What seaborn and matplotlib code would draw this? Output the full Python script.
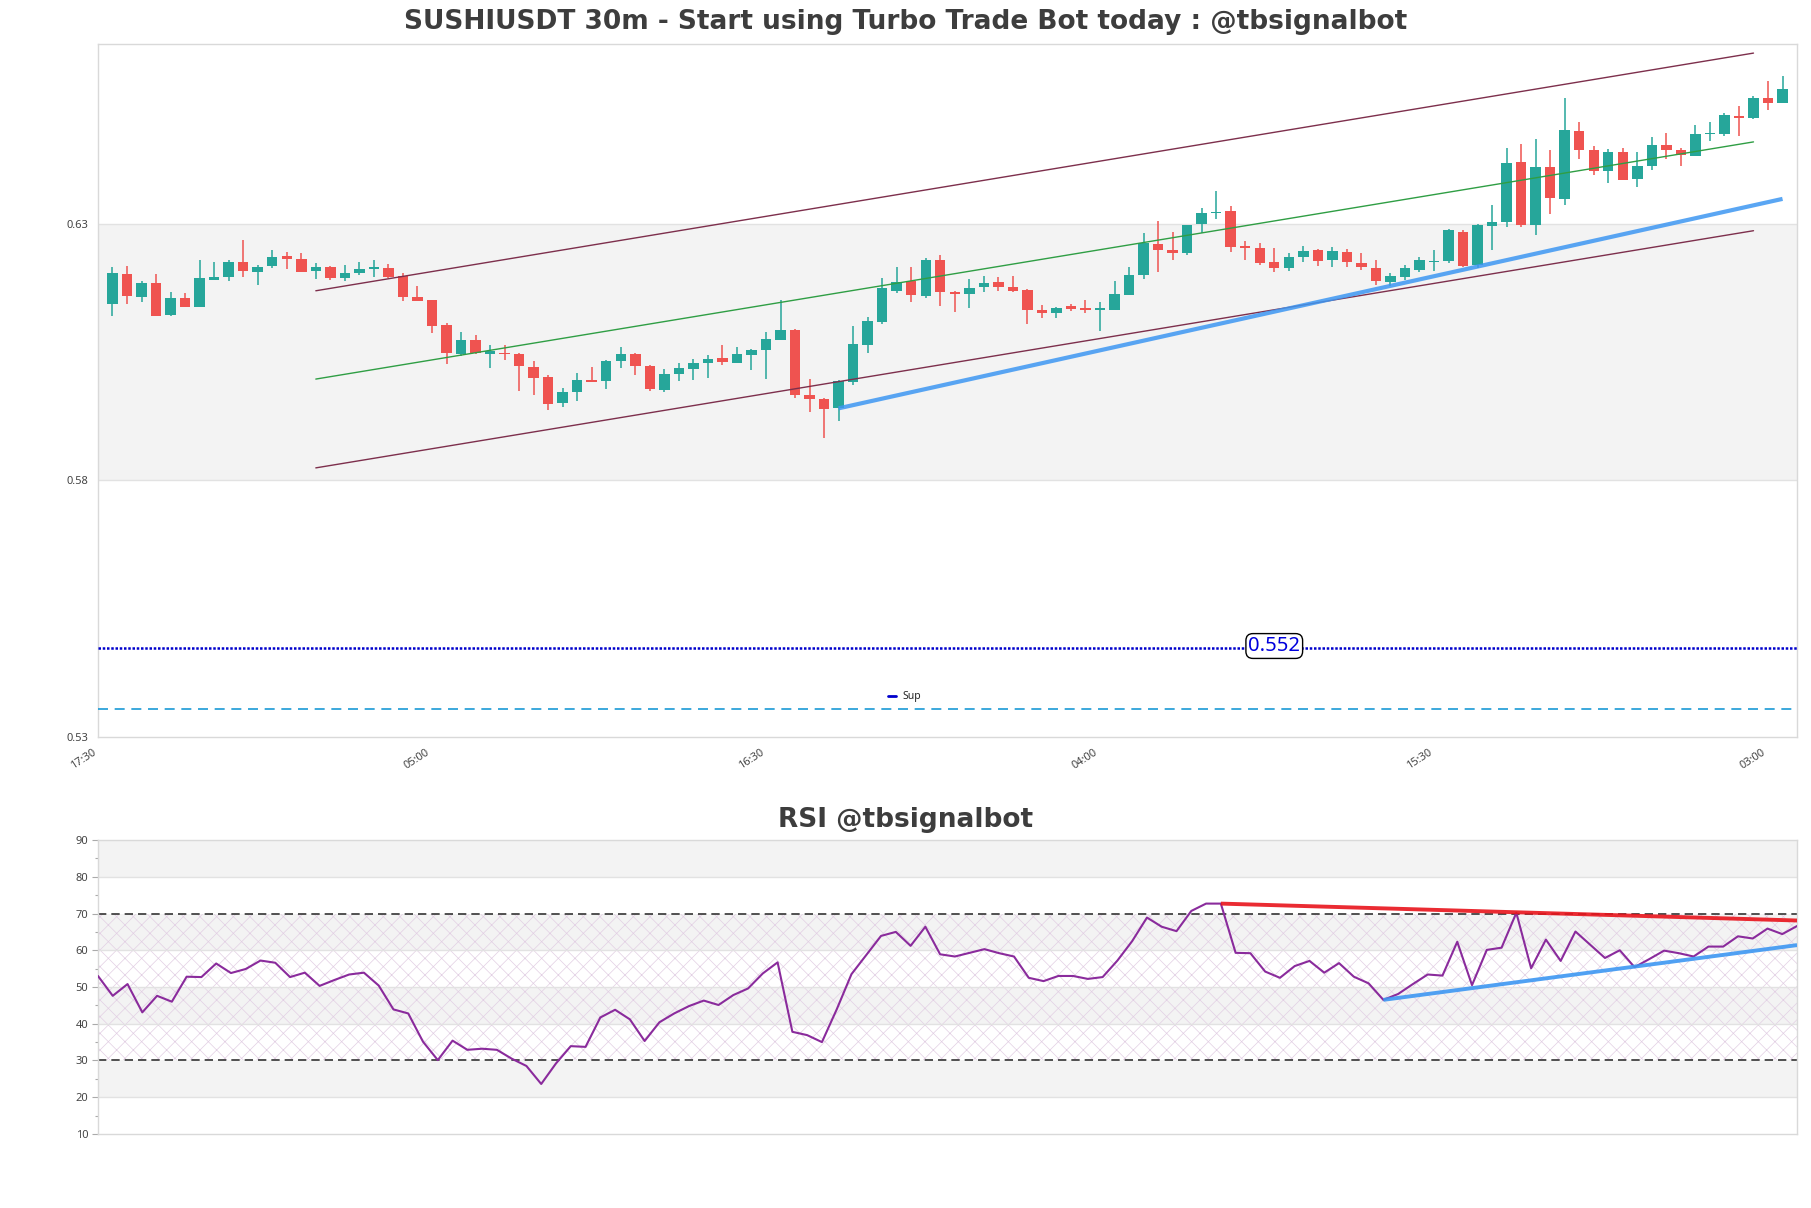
import numpy as np
import pandas as pd
import matplotlib
matplotlib.use("Agg")
import matplotlib.pyplot as plt
import matplotlib.transforms as mtransforms
import seaborn as sns
from matplotlib.lines import Line2D

# ---------------- data ----------------
opens = [0.6143, 0.6202, 0.6156, 0.6185, 0.6121, 0.6154, 0.6137, 0.6190, 0.6195, 0.6226,
         0.6205, 0.6217, 0.6236, 0.6230, 0.6207, 0.6216, 0.6193, 0.6203, 0.6212, 0.6214,
         0.6198, 0.6156, 0.6152, 0.6103, 0.6045, 0.6074, 0.6046, 0.6048, 0.6045, 0.6021,
         0.6002, 0.5950, 0.5971, 0.5996, 0.5994, 0.6032, 0.6046, 0.6023, 0.5975, 0.6007,
         0.6017, 0.6028, 0.6038, 0.6028, 0.6043, 0.6053, 0.6073, 0.6093, 0.5966, 0.5959,
         0.5940, 0.5991, 0.6063, 0.6109, 0.6169, 0.6189, 0.6158, 0.6228, 0.6167, 0.6162,
         0.6176, 0.6186, 0.6177, 0.6171, 0.6132, 0.6126, 0.6139, 0.6136, 0.6131, 0.6131,
         0.6160, 0.6199, 0.6260, 0.6249, 0.6243, 0.6299, 0.6321, 0.6325, 0.6256, 0.6253,
         0.6226, 0.6213, 0.6234, 0.6249, 0.6229, 0.6245, 0.6223, 0.6214, 0.6187, 0.6195,
         0.6210, 0.6225, 0.6227, 0.6283, 0.6219, 0.6295, 0.6302, 0.6420, 0.6297, 0.6411,
         0.6347, 0.6481, 0.6444, 0.6403, 0.6440, 0.6386, 0.6412, 0.6452, 0.6444, 0.6431,
         0.6474, 0.6474, 0.6509, 0.6505, 0.6544, 0.6535]
highs = [0.6216, 0.6218, 0.6188, 0.6202, 0.6167, 0.6164, 0.6228, 0.6225, 0.6228, 0.6267,
         0.6219, 0.6249, 0.6245, 0.6243, 0.6224, 0.6217, 0.6219, 0.6226, 0.6228, 0.6222,
         0.6204, 0.6179, 0.6152, 0.6106, 0.6089, 0.6082, 0.6064, 0.6064, 0.6048, 0.6033,
         0.6004, 0.5980, 0.6009, 0.6021, 0.6035, 0.6060, 0.6047, 0.6024, 0.6017, 0.6028,
         0.6036, 0.6043, 0.6064, 0.6060, 0.6055, 0.6089, 0.6151, 0.6094, 0.5998, 0.5961,
         0.5996, 0.6101, 0.6118, 0.6193, 0.6216, 0.6216, 0.6233, 0.6239, 0.6168, 0.6191,
         0.6197, 0.6195, 0.6198, 0.6172, 0.6141, 0.6137, 0.6143, 0.6151, 0.6148, 0.6189,
         0.6216, 0.6282, 0.6305, 0.6284, 0.6298, 0.6331, 0.6364, 0.6334, 0.6266, 0.6263,
         0.6253, 0.6243, 0.6256, 0.6250, 0.6254, 0.6251, 0.6243, 0.6228, 0.6204, 0.6219,
         0.6235, 0.6249, 0.6289, 0.6287, 0.6300, 0.6336, 0.6448, 0.6454, 0.6465, 0.6444,
         0.6545, 0.6497, 0.6451, 0.6446, 0.6448, 0.6440, 0.6469, 0.6477, 0.6448, 0.6491,
         0.6498, 0.6516, 0.6528, 0.6548, 0.6577, 0.6587]
lows = [0.6119, 0.6143, 0.6147, 0.6119, 0.6119, 0.6137, 0.6137, 0.6190, 0.6188, 0.6195,
        0.6181, 0.6213, 0.6212, 0.6205, 0.6191, 0.6190, 0.6188, 0.6199, 0.6195, 0.6193,
        0.6150, 0.6149, 0.6086, 0.6026, 0.6041, 0.6046, 0.6018, 0.6034, 0.5973, 0.5965,
        0.5936, 0.5942, 0.5955, 0.5991, 0.5978, 0.6018, 0.6004, 0.5973, 0.5971, 0.5993,
        0.5996, 0.6000, 0.6025, 0.6028, 0.6015, 0.5998, 0.6073, 0.5960, 0.5932, 0.5883,
        0.5915, 0.5986, 0.6047, 0.6104, 0.6164, 0.6148, 0.6154, 0.6139, 0.6128, 0.6135,
        0.6166, 0.6169, 0.6167, 0.6104, 0.6115, 0.6115, 0.6130, 0.6125, 0.6090, 0.6131,
        0.6160, 0.6191, 0.6205, 0.6229, 0.6238, 0.6282, 0.6308, 0.6244, 0.6228, 0.6219,
        0.6205, 0.6207, 0.6226, 0.6218, 0.6215, 0.6215, 0.6209, 0.6181, 0.6178, 0.6190,
        0.6206, 0.6208, 0.6224, 0.6216, 0.6214, 0.6248, 0.6293, 0.6293, 0.6277, 0.6319,
        0.6336, 0.6425, 0.6394, 0.6378, 0.6384, 0.6371, 0.6404, 0.6425, 0.6413, 0.6431,
        0.6461, 0.6470, 0.6470, 0.6503, 0.6522, 0.6535]
closes = [0.6204, 0.6158, 0.6185, 0.6119, 0.6154, 0.6137, 0.6193, 0.6195, 0.6226, 0.6207,
          0.6216, 0.6234, 0.6230, 0.6205, 0.6216, 0.6193, 0.6204, 0.6212, 0.6216, 0.6195,
          0.6156, 0.6150, 0.6100, 0.6047, 0.6074, 0.6047, 0.6052, 0.6046, 0.6022, 0.6000,
          0.5948, 0.5972, 0.5995, 0.5992, 0.6033, 0.6045, 0.6022, 0.5977, 0.6006, 0.6019,
          0.6028, 0.6037, 0.6030, 0.6045, 0.6054, 0.6076, 0.6093, 0.5965, 0.5958, 0.5938,
          0.5993, 0.6066, 0.6111, 0.6174, 0.6186, 0.6160, 0.6228, 0.6166, 0.6163, 0.6175,
          0.6184, 0.6176, 0.6169, 0.6131, 0.6126, 0.6136, 0.6134, 0.6131, 0.6136, 0.6162,
          0.6199, 0.6262, 0.6249, 0.6242, 0.6298, 0.6321, 0.6323, 0.6254, 0.6253, 0.6223,
          0.6213, 0.6235, 0.6247, 0.6227, 0.6247, 0.6225, 0.6215, 0.6188, 0.6198, 0.6214,
          0.6228, 0.6226, 0.6288, 0.6218, 0.6298, 0.6303, 0.6418, 0.6297, 0.6411, 0.6349,
          0.6483, 0.6444, 0.6402, 0.6440, 0.6384, 0.6413, 0.6452, 0.6444, 0.6433, 0.6474,
          0.6475, 0.6511, 0.6505, 0.6544, 0.6535, 0.6563]
rsi = [53.0, 47.6, 50.8, 43.1, 47.6, 46.0, 52.8, 52.7, 56.4, 53.8,
       54.9, 57.2, 56.6, 52.7, 53.9, 50.3, 51.9, 53.4, 53.9, 50.4,
       43.9, 42.8, 35.1, 30.1, 35.4, 32.9, 33.2, 32.9, 30.5, 28.5,
       23.6, 29.2, 33.9, 33.7, 41.7, 43.8, 41.2, 35.3, 40.4, 42.8,
       44.8, 46.3, 45.1, 47.8, 49.6, 53.7, 56.7, 37.8, 36.9, 35.0,
       43.9, 53.5, 58.7, 63.9, 65.0, 61.2, 66.4, 58.9, 58.3, 59.3,
       60.3, 59.2, 58.3, 52.5, 51.6, 53.0, 53.0, 52.2, 52.7, 57.2,
       62.5, 68.9, 66.4, 65.2, 70.7, 72.7, 72.7, 59.3, 59.2, 54.2,
       52.5, 55.7, 57.1, 53.9, 56.5, 52.8, 51.0, 46.5, 48.1, 50.8,
       53.4, 53.1, 62.3, 50.5, 60.1, 60.7, 70.2, 55.1, 62.9, 57.1,
       65.1, 61.5, 57.9, 60.0, 55.4, 57.6, 59.9, 59.2, 58.3, 61.0,
       61.0, 63.8, 63.2, 65.9, 64.4, 66.6]

tick_positions = [0, 23, 46, 69, 92, 115]
tick_labels = ['17:30', '05:00', '16:30', '04:00', '15:30', '03:00']
price_ticks = [0.53, 0.58, 0.63]

channel_x = [15, 114]
channel_upper = [0.6169, 0.6632]
channel_mid = [0.5997, 0.6459]
channel_lower = [0.5824, 0.6286]
support_x = [51, 116]
support_y = [0.5940, 0.6348]
sup_level = 0.5473
sup_label = "0.552"
dash_level = 0.5354
rsi_res_x = [77, 116]
rsi_res_y = [72.7, 68.1]
rsi_sup_x = [88, 116]
rsi_sup_y = [46.5, 61.4]

title_main = "SUSHIUSDT 30m - Start using Turbo Trade Bot today : @tbsignalbot"
title_rsi = "RSI @tbsignalbot"

# ---------------- style ----------------
sns.set_theme(style="white")
plt.rcParams['font.family'] = ['Noto Sans', 'DejaVu Sans']
plt.rcParams['hatch.linewidth'] = 0.5

UP = '#26a69a'
DOWN = '#ef5350'
BAND = '#f3f3f3'
GRID = '#e2e2e2'
SPINE = '#d9d9d9'
TXT = '#444444'

df = pd.DataFrame({'x': np.arange(1, len(opens) + 1), 'open': opens, 'high': highs,
                   'low': lows, 'close': closes})
df['color'] = np.where(df['close'] >= df['open'], UP, DOWN)
df['bottom'] = df[['open', 'close']].min(axis=1)
df['height'] = (df['close'] - df['open']).abs().clip(lower=0.00015)

fig = plt.figure(figsize=(18.11, 12.08), dpi=100)
ax = fig.add_axes([0.0541, 0.3900, 0.9382, 0.5737])
ax2 = fig.add_axes([0.0541, 0.0613, 0.9382, 0.2433])

# ---------------- main chart ----------------
ax.axhspan(0.58, 0.63, color=BAND, zorder=0, lw=0)
for yv in [0.58, 0.63]:
    ax.axhline(yv, color=GRID, lw=1, zorder=0.5)

ax.vlines(df['x'], df['low'], df['high'], colors=df['color'], lw=1.1, zorder=2)
ax.bar(df['x'], df['height'], bottom=df['bottom'], width=0.72, color=df['color'],
       lw=0, zorder=3)

ax.plot(channel_x, channel_upper, color='#7d2f4c', lw=1.0, zorder=4)
ax.plot(channel_x, channel_mid, color='#2f9e44', lw=1.0, zorder=4)
ax.plot(channel_x, channel_lower, color='#7d2f4c', lw=1.0, zorder=4)
ax.plot(support_x, support_y, color='#3d97f2', lw=3.0, alpha=0.85, zorder=4,
        solid_capstyle='butt')

ax.axhline(sup_level, color='#0000cc', lw=1.8, ls=(0, (1, 0.7)), zorder=4)
ax.axhline(dash_level, color='#1a9ad6', lw=1.2, ls=(0, (6, 4)), zorder=4)
ax.text(81, sup_level + 0.0004, sup_label, color='#0000dd', fontsize=14.5, ha='center',
        va='center', zorder=6,
        bbox=dict(boxstyle='round,pad=0.12,rounding_size=0.35', fc='white', ec='black', lw=1))

leg = ax.legend(handles=[Line2D([], [], color='#0000cc', lw=2)], labels=['Sup'],
                loc='center', bbox_to_anchor=(0.4745, 0.058), frameon=False, fontsize=7.5,
                handlelength=0.8, handletextpad=0.6)

ax.set_xlim(0, 117)
ax.set_ylim(0.53, 0.665)
ax.set_yticks(price_ticks)
ax.set_yticklabels([f"{v:.2f}" for v in price_ticks])
ax.set_xticks(tick_positions)
ax.set_xticklabels(tick_labels, rotation=33, ha='right', rotation_mode='anchor')
ax.tick_params(axis='both', length=0, labelsize=8, colors=TXT, pad=7)
ax.tick_params(axis='x', pad=6)
shift = mtransforms.ScaledTranslation(-6 / 100, -2 / 100, fig.dpi_scale_trans)
for lab in ax.get_xticklabels():
    lab.set_transform(lab.get_transform() + shift)
for s in ax.spines.values():
    s.set_color(SPINE)
    s.set_linewidth(1)

# ---------------- RSI ----------------
for lo, hi in [(80, 90), (60, 70), (40, 50), (20, 30)]:
    ax2.axhspan(lo, hi, color=BAND, zorder=0, lw=0)
ax2.axhspan(30, 70, facecolor='none', edgecolor='#e2cfe4', hatch='xx', lw=0, zorder=0.3)
for yv in [20, 40, 50, 60, 80]:
    ax2.axhline(yv, color=GRID, lw=1, zorder=0.5)
for yv in [30, 70]:
    ax2.axhline(yv, color='#333333', lw=1.2, ls=(0, (5, 3)), zorder=1)

rsi_df = pd.DataFrame({'x': np.arange(1, len(rsi) + 1), 'rsi': rsi})
sns.lineplot(data=rsi_df, x='x', y='rsi', ax=ax2, color='#8a2b9c', lw=1.5, zorder=3)
ax2.plot(rsi_res_x, rsi_res_y, color='#e8141c', lw=2.8, alpha=0.9, zorder=4,
         solid_capstyle='butt')
ax2.plot(rsi_sup_x, rsi_sup_y, color='#3d97f2', lw=2.8, alpha=0.9, zorder=4,
         solid_capstyle='butt')

ax2.set_xlim(1, len(rsi))
ax2.set_ylim(10, 90)
ax2.set_yticks(np.arange(10, 91, 10))
ax2.set_yticks(np.arange(15, 90, 10), minor=True)
ax2.set_xticks([])
ax2.set_xlabel('')
ax2.set_ylabel('')
ax2.tick_params(axis='y', which='major', length=4, width=0.8, color='#aaaaaa',
                labelsize=8, labelcolor=TXT, left=True, pad=3)
ax2.tick_params(axis='y', which='minor', length=2.5, width=0.8, color='#aaaaaa', left=True)
for s in ax2.spines.values():
    s.set_color(SPINE)
    s.set_linewidth(1)

# ---------------- titles ----------------
fig.text(0.5, 0.982, title_main, ha='center', va='center', fontsize=19,
         fontweight='bold', color='#3d3d3d', family='DejaVu Sans')
fig.text(0.5, 0.321, title_rsi, ha='center', va='center', fontsize=19,
         fontweight='bold', color='#3d3d3d', family='DejaVu Sans')

fig.savefig('out.png', dpi=100)
